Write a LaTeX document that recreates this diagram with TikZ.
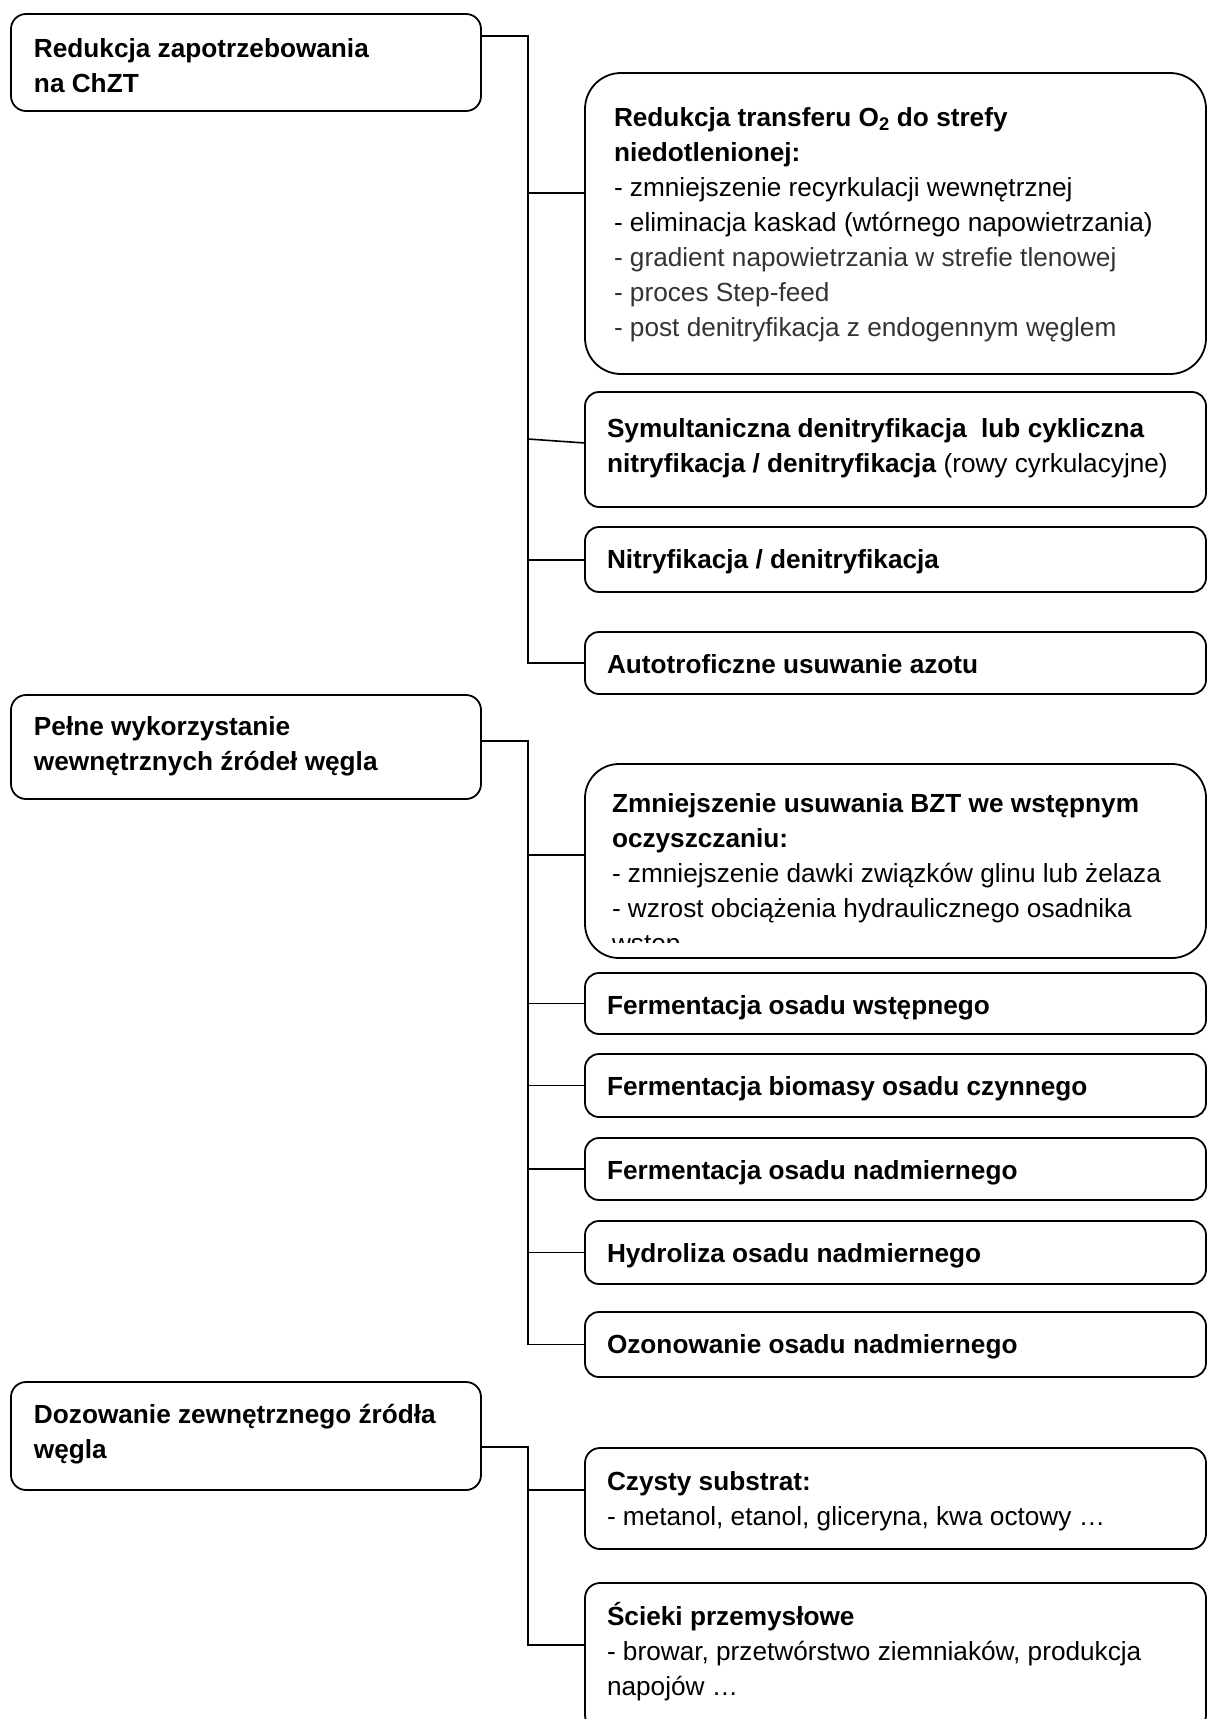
\documentclass[tikz,border=0pt]{standalone}
\usepackage{fontspec}
\setmainfont{Liberation Sans}
\newcommand\fz{\fontsize{26.2}{35}\selectfont}
\definecolor{dg}{HTML}{333333}
\begin{document}
\begin{tikzpicture}[x=1pt,y=-1pt,
  bx/.style={draw, line width=1.8pt, inner sep=0pt, outer sep=0pt, anchor=north west, minimum width=621pt},
  lbx/.style={bx, minimum width=470pt, rounded corners=15pt},
  sbx/.style={bx, rounded corners=14pt},
  rbx/.style={bx, rounded corners=36pt},
  txt/.style={anchor=north west, inner sep=0pt, outer sep=0pt, align=left, font=\fz},
  btxt/.style={txt, font=\fz\bfseries},
  conn/.style={line width=1.6pt}]
\useasboundingbox (0,0) rectangle (1208,1719);
\clip (0,0) rectangle (1208,1719);
\fill[white] (0,0) rectangle (1208,1719);

% left boxes
\node[lbx, minimum height=97pt] (b1) at (11,14) {};
\node[lbx, minimum height=104pt] (b2) at (11,695) {};
\node[lbx, minimum height=108pt] (b3) at (11,1382) {};
\node[btxt] (t1) at (34,32.5) {\strut Redukcja zapotrzebowania\\na ChZT};
\node[btxt] (t2) at (34,710.5) {\strut Pełne wykorzystanie\\wewnętrznych źródeł węgla};
\node[btxt] (t3) at (34,1398.5) {\strut Dozowanie zewnętrznego źródła\\węgla};

% right boxes, group 1
\node[rbx, minimum height=301pt] (big) at (585,73) {};
\node[sbx, minimum height=115pt] (sym) at (585,392) {};
\node[sbx, minimum height=65pt] (nit) at (585,527) {};
\node[sbx, minimum height=62pt] (aut) at (585,632) {};
\node[txt] (tbig) at (614,101.5) {\strut\textbf{Redukcja transferu O\textsubscript{2} do strefy}\\
\textbf{niedotlenionej:}\\
- zmniejszenie recyrkulacji wewnętrznej\\
- eliminacja kaskad (wtórnego napowietrzania)\\
\textcolor{dg}{- gradient napowietrzania w strefie tlenowej}\\
\textcolor{dg}{- proces Step-feed}\\
\textcolor{dg}{- post denitryfikacja z endogennym węglem}};
\node[txt] (tsym) at (607,412.5) {\strut\textbf{Symultaniczna denitryfikacja~ lub cykliczna}\\
\textbf{nitryfikacja / denitryfikacja} (rowy cyrkulacyjne)};
\node[btxt] (tnit) at (607,543.5) {\strut Nitryfikacja / denitryfikacja};
\node[btxt] (taut) at (607,648.5) {\strut Autotroficzne usuwanie azotu};

% right boxes, group 2
\node[bx, rounded corners=34pt, minimum height=194pt] (zn) at (585,764) {};
\begin{scope}
\clip (590,770) rectangle (1200,942);
\node[txt] (tzn) at (612,787.5) {\strut\textbf{Zmniejszenie usuwania BZT we wstępnym}\\
\textbf{oczyszczaniu:}\\
- zmniejszenie dawki związków glinu lub żelaza\\
- wzrost obciążenia hydraulicznego osadnika\\
wstęp};
\end{scope}
\node[sbx, minimum height=61pt] (fow) at (585,973) {};
\node[sbx, minimum height=63pt] (fb) at (585,1054) {};
\node[sbx, minimum height=62pt] (fon) at (585,1138) {};
\node[sbx, minimum height=63pt] (hyd) at (585,1221) {};
\node[sbx, minimum height=65pt] (oz) at (585,1312) {};
\node[btxt] (tfow) at (607,989.5) {\strut Fermentacja osadu wstępnego};
\node[btxt] (tfb) at (607,1070.5) {\strut Fermentacja biomasy osadu czynnego};
\node[btxt] (tfon) at (607,1154.5) {\strut Fermentacja osadu nadmiernego};
\node[btxt] (thyd) at (607,1237.5) {\strut Hydroliza osadu nadmiernego};
\node[btxt] (toz) at (607,1328.5) {\strut Ozonowanie osadu nadmiernego};

% right boxes, group 3
\node[sbx, rounded corners=15pt, minimum height=101pt] (cz) at (585,1448) {};
\node[sbx, rounded corners=15pt, minimum height=147pt] (sc) at (585,1583) {};
\node[txt] (tcz) at (607,1465.5) {\strut\textbf{Czysty substrat:}\\
- metanol, etanol, gliceryna, kwa octowy …};
\node[txt] (tsc) at (607,1600.5) {\strut\textbf{Ścieki przemysłowe}\\
- browar, przetwórstwo ziemniaków, produkcja\\
napojów …};

% connectors group 1
\coordinate (s1) at (528,36);
\coordinate (k1a) at (528,193);
\coordinate (k1b) at (528,439);
\coordinate (k1c) at (528,560);
\coordinate (k1d) at (528,663);
\draw[conn] (s1 -| b1.east) -- (s1) -- (k1d) -- (k1d -| aut.west);
\draw[conn] (k1a) -- (k1a -| big.west);
\draw[conn] (k1b) -- ([yshift=-4pt]k1b -| sym.west);
\draw[conn] (k1c) -- (k1c -| nit.west);

% connectors group 2
\coordinate (s2) at (528,741);
\coordinate (k2a) at (528,855);
\coordinate (k2b) at (528,1003.5);
\coordinate (k2c) at (528,1085.5);
\coordinate (k2d) at (528,1169);
\coordinate (k2e) at (528,1252.5);
\coordinate (k2f) at (528,1344.5);
\draw[conn] (s2 -| b2.east) -- (s2) -- (k2f) -- (k2f -| oz.west);
\draw[conn] (k2a) -- (k2a -| zn.west);
\draw[conn] (k2b) -- (k2b -| fow.west);
\draw[conn] (k2c) -- (k2c -| fb.west);
\draw[conn] (k2d) -- (k2d -| fon.west);
\draw[conn] (k2e) -- (k2e -| hyd.west);

% connectors group 3
\coordinate (s3) at (528,1447);
\coordinate (k3a) at (528,1490);
\coordinate (k3b) at (528,1645);
\draw[conn] (s3 -| b3.east) -- (s3) -- (k3b) -- (k3b -| sc.west);
\draw[conn] (k3a) -- (k3a -| cz.west);
\end{tikzpicture}
\end{document}
